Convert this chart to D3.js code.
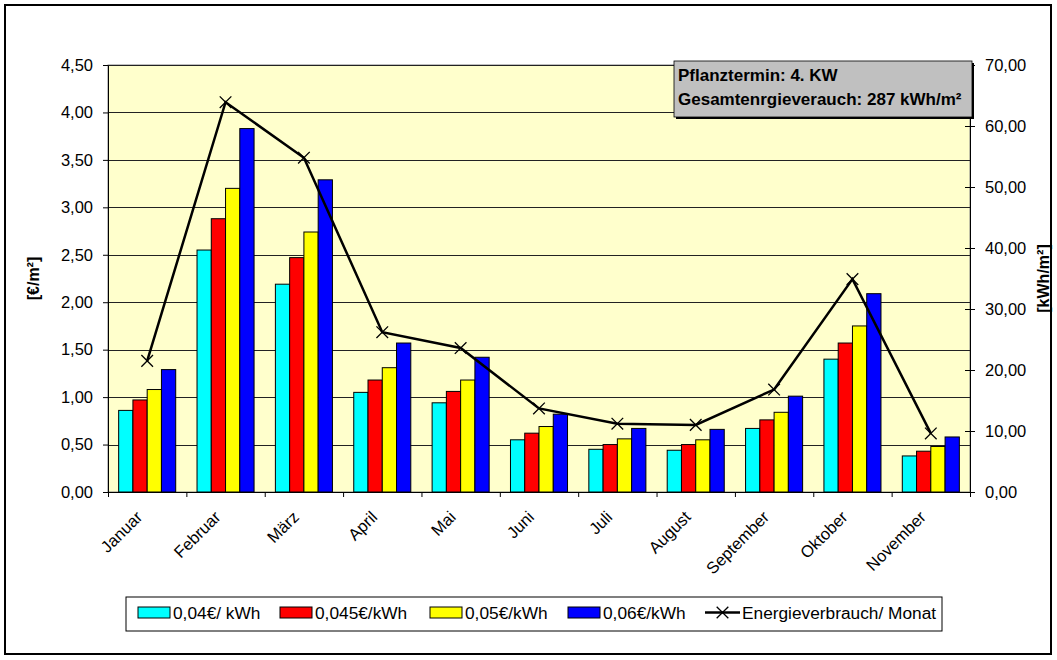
<!DOCTYPE html>
<html>
<head>
<meta charset="utf-8">
<script src="https://cdn.jsdelivr.net/npm/d3@7"></script>
<style>
  html, body { margin: 0; padding: 0; background: #fff; }
  svg { display: block; font-family: Arial, "Liberation Sans", sans-serif; }
</style>
</head>
<body>
<svg id="chart" width="1057" height="660"></svg>
<script>
const months = ["Januar","Februar","März","April","Mai","Juni","Juli","August","September","Oktober","November"];
const seriesNames = ["0,04€/ kWh","0,045€/kWh","0,05€/kWh","0,06€/kWh"];
const cost004  = [0.86, 2.55, 2.19, 1.05, 0.94, 0.55, 0.45, 0.44, 0.67, 1.40, 0.38];
const cost0045 = [0.97, 2.88, 2.47, 1.18, 1.06, 0.62, 0.50, 0.50, 0.76, 1.57, 0.43];
const cost005  = [1.08, 3.20, 2.74, 1.31, 1.18, 0.69, 0.56, 0.55, 0.84, 1.75, 0.48];
const cost006  = [1.29, 3.83, 3.29, 1.57, 1.42, 0.82, 0.67, 0.66, 1.01, 2.09, 0.58];
const energy   = [21.5, 63.9, 54.8, 26.2, 23.6, 13.7, 11.2, 11.0, 16.8, 34.9, 9.6];
const energyName = "Energieverbrauch/ Monat";
const leftTicks = [0,0.5,1,1.5,2,2.5,3,3.5,4,4.5];
const rightTicks = [0,10,20,30,40,50,60,70];
const colors = ["#00FFFF","#FF0000","#FFFF00","#0000FF"];
const noteLines = ["Pflanztermin: 4. KW","Gesamtenrgieverauch: 287 kWh/m²"];

const svg = d3.select("#chart");
const fmt = d3.format(".2f");
const de = v => fmt(v).replace(".", ",");

// outer border
svg.append("rect").attr("x",5).attr("y",5).attr("width",1046).attr("height",649)
  .attr("fill","#fff").attr("stroke","#000").attr("stroke-width",2);

const L = 108, R = 970, T = 65, B = 492;
const allCost = [cost004, cost0045, cost005, cost006];

const x = d3.scaleBand().domain(months).range([L, R]).paddingInner(0.272).paddingOuter(0.136);
const xs = d3.scaleBand().domain(d3.range(4)).range([0, x.bandwidth()]);
const xIdx = d3.scaleLinear().domain([0, months.length]).range([L, R]);
const y = d3.scaleLinear().domain([0, 4.5]).range([B, T]);
const y2 = d3.scaleLinear().domain([0, 70]).range([B, T]);

// plot background
svg.append("rect").attr("x",L).attr("y",T).attr("width",R-L).attr("height",B-T)
  .attr("fill","#FFFFCC").attr("stroke","#808080").attr("stroke-width",1);

// gridlines
svg.append("g").selectAll("line").data(leftTicks.filter(d=>d>0)).join("line")
  .attr("x1",L).attr("x2",R).attr("y1",d=>Math.round(y(d))+0.5).attr("y2",d=>Math.round(y(d))+0.5)
  .attr("stroke","#222").attr("stroke-width",1);

// bars
const groups = svg.append("g").selectAll("g").data(months).join("g")
  .attr("transform", d => `translate(${x(d)},0)`);
groups.selectAll("rect").data((m,i) => allCost.map((s,k) => ({k, v: s[i]}))).join("rect")
  .attr("x", d => xs(d.k)).attr("width", xs.bandwidth())
  .attr("y", d => y(d.v)).attr("height", d => B - y(d.v))
  .attr("fill", d => colors[d.k]).attr("stroke","#000").attr("stroke-width",1);

// left axis
const gL = svg.append("g").attr("transform",`translate(${L},0)`)
  .call(d3.axisLeft(y).tickValues(leftTicks).tickFormat(de).tickSize(5).tickSizeOuter(0));
gL.selectAll("text").attr("font-size",16.5).attr("fill","#000").attr("dx",-7);
gL.selectAll("line,path").attr("stroke","#000");

// right axis
const gR = svg.append("g").attr("transform",`translate(${R},0)`)
  .call(d3.axisRight(y2).tickValues(rightTicks).tickFormat(de).tickSize(5).tickSizeOuter(0));
gR.selectAll(".tick line").attr("x1",-5);
gR.selectAll("text").attr("font-size",16.5).attr("fill","#000").attr("dx",7);
gR.selectAll("line,path").attr("stroke","#000");

// bottom axis ticks
const gB = svg.append("g").attr("transform",`translate(0,${B})`)
  .call(d3.axisBottom(xIdx).tickValues(d3.range(months.length+1)).tickFormat("").tickSize(5).tickSizeOuter(0));
gB.selectAll("line,path").attr("stroke","#000");

// month labels
svg.append("g").selectAll("text").data(months).join("text")
  .attr("transform", d => `translate(${x(d) + x.bandwidth()/2 - 8},${B + 22}) rotate(-45)`)
  .attr("text-anchor","end").attr("font-size",16.5).attr("dy","0.35em").text(d => d);

// energy line
const line = d3.line().x((d,i) => x(months[i]) + x.bandwidth()/2).y(d => y2(d));
svg.append("path").datum(energy).attr("d", line).attr("fill","none")
  .attr("stroke","#000").attr("stroke-width",2.5).attr("stroke-linejoin","miter");
const cross = d3.symbol().type(d3.symbolX).size(90);
svg.append("g").selectAll("path").data(energy).join("path")
  .attr("transform",(d,i) => `translate(${x(months[i]) + x.bandwidth()/2},${y2(d)})`)
  .attr("d", cross).attr("fill","none").attr("stroke","#000").attr("stroke-width",1.3);

// axis titles
svg.append("text").attr("transform",`translate(33,${(T+B)/2}) rotate(-90)`)
  .attr("text-anchor","middle").attr("dy","0.35em").attr("font-weight","bold").attr("font-size",16).text("[€/m²]");
svg.append("text").attr("transform",`translate(1043,${(T+B)/2}) rotate(-90)`)
  .attr("text-anchor","middle").attr("dy","0.35em").attr("font-weight","bold").attr("font-size",16).text("[kWh/m²]");

// annotation box
const bx = 674, by = 61, bw = 298, bh = 56;
svg.append("rect").attr("x",bx+2).attr("y",by+2).attr("width",bw).attr("height",bh).attr("fill","#000");
svg.append("rect").attr("x",bx).attr("y",by).attr("width",bw).attr("height",bh)
  .attr("fill","#C0C0C0").attr("stroke","#000").attr("stroke-width",0.8);
svg.append("g").selectAll("text").data(noteLines).join("text")
  .attr("x",bx+4).attr("y",(d,i) => by + 20 + i*24).attr("font-weight","bold").attr("font-size",17).text(d=>d);

// legend
const lg = svg.append("g");
lg.append("rect").attr("x",126).attr("y",597).attr("width",816).attr("height",34)
  .attr("fill","#fff").attr("stroke","#000").attr("stroke-width",1);
const legX = [138, 280, 430, 568];
seriesNames.forEach((n,k) => {
  lg.append("rect").attr("x",legX[k]).attr("y",607).attr("width",32).attr("height",11)
    .attr("fill",colors[k]).attr("stroke","#000").attr("stroke-width",1);
  lg.append("text").attr("x",legX[k]+35).attr("y",619).attr("font-size",17.3).text(n);
});
lg.append("line").attr("x1",705).attr("x2",740).attr("y1",612.5).attr("y2",612.5)
  .attr("stroke","#000").attr("stroke-width",2.5);
lg.append("path").attr("transform","translate(722.5,612.5)").attr("d",cross)
  .attr("fill","none").attr("stroke","#000").attr("stroke-width",1.3);
lg.append("text").attr("x",742).attr("y",619).attr("font-size",17.3).text(energyName);
</script>
</body>
</html>
